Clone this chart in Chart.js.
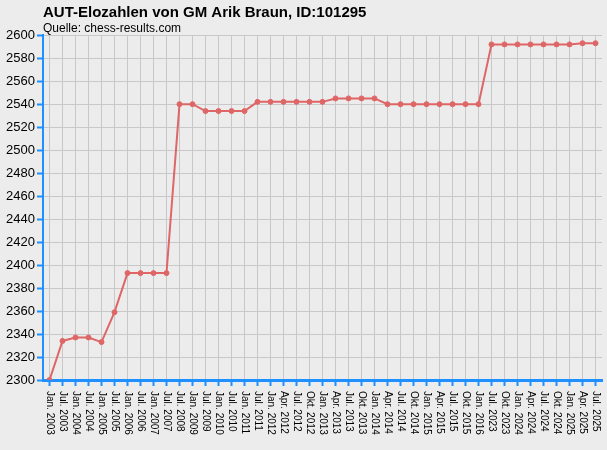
<!DOCTYPE html>
<html>
<head>
<meta charset="utf-8">
<script src="https://cdn.jsdelivr.net/npm/chart.js@4/dist/chart.umd.min.js"></script>
<style>
  body { margin: 0; background: #ececec; }
  canvas { display: block; }
</style>
</head>
<body>
<canvas id="elo" width="607" height="450"></canvas>
<script>
const periods = [
  "Jan. 2003", "Jul. 2003", "Jan. 2004", "Jul. 2004", "Jan. 2005", "Jul. 2005",
  "Jan. 2006", "Jul. 2006", "Jan. 2007", "Jul. 2007", "Jul. 2008", "Jan. 2009",
  "Jul. 2009", "Jan. 2010", "Jul. 2010", "Jan. 2011", "Jul. 2011", "Jan. 2012",
  "Apr. 2012", "Jul. 2012", "Okt. 2012", "Jan. 2013", "Apr. 2013", "Jul. 2013",
  "Okt. 2013", "Jan. 2014", "Apr. 2014", "Jul. 2014", "Okt. 2014", "Jan. 2015",
  "Apr. 2015", "Jul. 2015", "Okt. 2015", "Jan. 2016", "Jul. 2023", "Okt. 2023",
  "Jan. 2024", "Apr. 2024", "Jul. 2024", "Okt. 2024", "Jan. 2025", "Apr. 2025",
  "Jul. 2025"
];

const elo = [
  2300, 2334, 2337, 2337, 2333, 2359,
  2393, 2393, 2393, 2393, 2540, 2540,
  2534, 2534, 2534, 2534, 2542, 2542,
  2542, 2542, 2542, 2542, 2545, 2545,
  2545, 2545, 2540, 2540, 2540, 2540,
  2540, 2540, 2540, 2540, 2592, 2592,
  2592, 2592, 2592, 2592, 2592, 2593,
  2593
];

const yMin = 2300;
const yMax = 2600;
const yStep = 20;

const blue = "rgb(30,144,255)";
const red = "rgb(222,102,102)";
const fontFam = "'Liberation Sans', Arial, sans-serif";

// x labels read top-to-bottom, so they are drawn here instead of by the scale
const downLabels = {
  id: "downLabels",
  afterDraw(chart) {
    const ctx = chart.ctx;
    const x = chart.scales.x;
    ctx.save();
    ctx.fillStyle = "#000";
    ctx.font = "10px " + fontFam;
    ctx.textAlign = "left";
    ctx.textBaseline = "middle";
    periods.forEach((p, i) => {
      ctx.save();
      ctx.translate(x.getPixelForValue(i), chart.chartArea.bottom + 11);
      ctx.rotate(Math.PI / 2);
      ctx.fillText(p, 0, 0);
      ctx.restore();
    });
    ctx.restore();
  },
};

new Chart(document.getElementById("elo"), {
  type: "line",
  data: {
    labels: periods,
    datasets: [
      {
        label: "Elo",
        data: elo,
        borderColor: red,
        backgroundColor: red,
        borderWidth: 2,
        pointRadius: 2.5,
        pointBorderWidth: 1,
        pointBackgroundColor: red,
        pointBorderColor: red,
        tension: 0,
      },
    ],
  },
  options: {
    responsive: false,
    animation: false,
    layout: { padding: { left: 0, right: 5, top: 0, bottom: 0 } },
    scales: {
      x: {
        offset: true,
        ticks: { display: false },
        grid: {
          offset: false,
          color: "#c8c8c8",
          lineWidth: 1,
          drawTicks: true,
          tickLength: 6,
          tickColor: blue,
          tickWidth: 2,
        },
        border: { color: blue, width: 3 },
        afterFit(scale) {
          scale.height = 70;
        },
      },
      y: {
        min: yMin,
        max: yMax,
        ticks: {
          stepSize: yStep,
          color: "#000",
          padding: 2,
          font: { family: fontFam, size: 13 },
          callback: (v) => String(v),
        },
        grid: {
          color: "#c8c8c8",
          lineWidth: 1,
          tickLength: 6,
          tickColor: blue,
          tickWidth: 2,
        },
        border: { color: blue, width: 2 },
        afterFit(scale) {
          scale.width = 43;
        },
      },
    },
    plugins: {
      legend: { display: false },
      tooltip: { enabled: false },
      title: {
        display: true,
        text: "AUT-Elozahlen von GM Arik Braun, ID:101295",
        align: "start",
        fullSize: false,
        color: "#000",
        font: { family: fontFam, size: 15, weight: "bold" },
        padding: { top: 4, bottom: 0 },
      },
      subtitle: {
        display: true,
        text: "Quelle: chess-results.com",
        align: "start",
        fullSize: false,
        color: "#000",
        font: { family: fontFam, size: 12, lineHeight: 1.1 },
        padding: { top: 0, bottom: 0 },
      },
    },
  },
  plugins: [downLabels],
});
</script>
</body>
</html>
